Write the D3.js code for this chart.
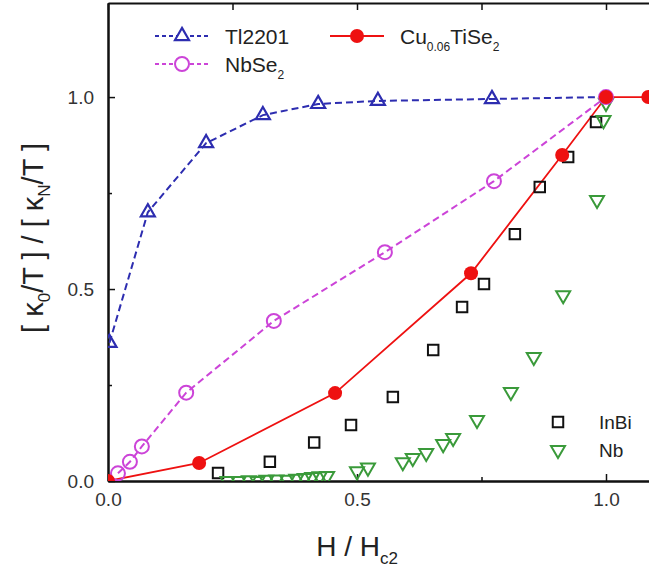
<!DOCTYPE html>
<html lang="en">
<head>
  <meta charset="UTF-8">
  <title>kappa ratio vs H/Hc2</title>
  <script src="https://cdn.jsdelivr.net/npm/d3@7/dist/d3.min.js"></script>
  <style>
    body { margin: 0; background: #fff; }
    svg { display: block; font-family: "Liberation Sans", Arial, sans-serif; }
  </style>
</head>
<body>
<svg></svg>
<script>
  // data
  const tlX = [0.003, 0.08, 0.197, 0.311, 0.422, 0.542, 0.771, 1.0]
  const tlY = [0.36, 0.70, 0.88, 0.953, 0.982, 0.99, 0.995, 1.0]

  const nbseX = [0.02, 0.044, 0.068, 0.157, 0.333, 0.556, 0.775, 1.0]
  const nbseY = [0.02, 0.05, 0.09, 0.23, 0.417, 0.596, 0.781, 1.0]

  const cuX = [0, 0.183, 0.456, 0.729, 0.912, 1.0, 1.085]
  const cuY = [0, 0.047, 0.229, 0.541, 0.849, 1.0, 1.0]

  const inbiX = [0.221, 0.325, 0.414, 0.488, 0.572, 0.653, 0.711, 0.755, 0.817, 0.867, 0.924, 0.98]
  const inbiY = [0.021, 0.05, 0.10, 0.146, 0.219, 0.341, 0.453, 0.513, 0.643, 0.766, 0.844, 0.935]

  const nbX = [0.24, 0.262, 0.283, 0.3, 0.318, 0.338, 0.36, 0.378, 0.395, 0.41, 0.425, 0.44,
    0.5, 0.522, 0.592, 0.612, 0.639, 0.673, 0.693, 0.741, 0.809, 0.855, 0.914, 0.982, 0.995, 1.0]
  const nbY = [0.0, 0.0, 0.002, 0.0, 0.003, 0.004, 0.003, 0.006, 0.008, 0.01, 0.012, 0.013,
    0.025, 0.035, 0.049, 0.06, 0.073, 0.096, 0.112, 0.159, 0.232, 0.323, 0.484, 0.732, 0.94, 0.985]

  const xTicks = [0, 0.5, 1.0]
  const xMinor = [0.25, 0.75]
  const yTicks = [0, 0.5, 1.0]
  const yMinor = [0.25, 0.75]

  const width = 649, height = 569
  const margin = {top: 3, left: 108, bottom: 88}
  const zip = (xs, ys) => xs.map((x, i) => ({x, y: ys[i]}))

  const blue = "#2d2db0", magenta = "#cc44d8", red = "#ee1111", green = "#3a9a3a"

  const svg = d3.select("svg")
      .attr("width", width)
      .attr("height", height)

  const x = d3.scaleLinear()
      .domain([0, 1.1])
      .range([margin.left, margin.left + 1.1 * 498])

  const y = d3.scaleLinear()
      .domain([0, 1.245])
      .range([height - margin.bottom, margin.top])

  svg.append("clipPath").attr("id", "clip")
      .append("rect")
      .attr("x", x(0)).attr("y", y(1.245))
      .attr("width", x(1.1) - x(0)).attr("height", y(0) - y(1.245))

  // axes, ticks pointing inward
  const axisStyle = g => g.call(g => g.selectAll(".domain").attr("stroke", "#111").attr("stroke-width", 2))
      .call(g => g.selectAll(".tick line").attr("stroke", "#111").attr("stroke-width", 1.5))
      .call(g => g.selectAll(".tick text").attr("fill", "#333").style("font-size", "19px"))

  svg.append("g")
      .attr("transform", `translate(0,${y(0)})`)
      .call(d3.axisBottom(x).tickValues(xTicks).tickSize(-7).tickPadding(12).tickSizeOuter(0)
          .tickFormat(d3.format(".1f")))
      .call(axisStyle)
  svg.append("g")
      .attr("transform", `translate(0,${y(0)})`)
      .call(d3.axisBottom(x).tickValues(xMinor).tickSize(-4).tickFormat("").tickSizeOuter(0))
      .call(axisStyle)

  svg.append("g")
      .attr("transform", `translate(0,${y(1.245)})`)
      .call(d3.axisTop(x).tickValues(xTicks.concat(xMinor)).tickSize(-7).tickFormat("").tickSizeOuter(0))
      .call(axisStyle)

  svg.append("g")
      .attr("transform", `translate(${x(0)},0)`)
      .call(d3.axisLeft(y).tickValues(yTicks).tickSize(-7).tickPadding(14).tickSizeOuter(0)
          .tickFormat(d3.format(".1f")))
      .call(axisStyle)
  svg.append("g")
      .attr("transform", `translate(${x(0)},0)`)
      .call(d3.axisLeft(y).tickValues(yMinor).tickSize(-4).tickFormat("").tickSizeOuter(0))
      .call(axisStyle)

  // axis titles
  svg.append("text")
      .attr("x", 357).attr("y", 556)
      .attr("text-anchor", "middle")
      .attr("fill", "#222")
      .style("font-size", "28px")
      .call(t => {
        t.append("tspan").text("H / H")
        t.append("tspan").text("c2").attr("dy", 8).style("font-size", "17px")
      })

  svg.append("text")
      .attr("transform", "translate(43,238) rotate(-90)")
      .attr("text-anchor", "middle")
      .attr("fill", "#222")
      .style("font-size", "29px")
      .call(t => {
        t.append("tspan").text("[ κ")
        t.append("tspan").text("0").attr("dy", 7).style("font-size", "17px")
        t.append("tspan").text("/T ] / [ κ").attr("dy", -7)
        t.append("tspan").text("N").attr("dy", 7).style("font-size", "17px")
        t.append("tspan").text("/T ]").attr("dy", -7)
      })

  const plot = svg.append("g").attr("clip-path", "url(#clip)")

  const line = d3.line().x(d => x(d.x)).y(d => y(d.y))
  const tri = d3.symbol().type(d3.symbolTriangle).size(85)
  const sq = d3.symbol().type(d3.symbolSquare).size(110)

  // lines
  plot.append("path").datum(zip(cuX, cuY))
      .attr("d", line).attr("fill", "none").attr("stroke", red).attr("stroke-width", 1.8)
  plot.append("path").datum(zip(nbseX, nbseY))
      .attr("d", line).attr("fill", "none").attr("stroke", magenta).attr("stroke-width", 2)
      .attr("stroke-dasharray", "7,4")
  plot.append("path").datum(zip(tlX, tlY))
      .attr("d", line).attr("fill", "none").attr("stroke", blue).attr("stroke-width", 2)
      .attr("stroke-dasharray", "7,4")

  // markers
  plot.selectAll(".inbi").data(zip(inbiX, inbiY)).join("path")
      .attr("transform", d => `translate(${x(d.x)},${y(d.y)})`)
      .attr("d", sq).attr("fill", "none").attr("stroke", "#111").attr("stroke-width", 2)

  plot.selectAll(".nb").data(zip(nbX, nbY)).join("path")
      .attr("transform", d => `translate(${x(d.x)},${y(d.y)}) rotate(180)`)
      .attr("d", tri).attr("fill", "none").attr("stroke", green).attr("stroke-width", 2)

  plot.selectAll(".nbse").data(zip(nbseX, nbseY)).join("circle")
      .attr("cx", d => x(d.x)).attr("cy", d => y(d.y)).attr("r", 7)
      .attr("fill", "none").attr("stroke", magenta).attr("stroke-width", 2)

  plot.selectAll(".tl").data(zip(tlX, tlY).slice(0, -1)).join("path")
      .attr("transform", d => `translate(${x(d.x)},${y(d.y)})`)
      .attr("d", tri).attr("fill", "none").attr("stroke", blue).attr("stroke-width", 2.2)

  plot.selectAll(".cu").data(zip(cuX, cuY)).join("circle")
      .attr("cx", d => x(d.x)).attr("cy", d => y(d.y)).attr("r", 7)
      .attr("fill", red)

  // legend top
  const leg = svg.append("g").style("font-size", "21px").attr("fill", "#222")
  const legRow = (lx, ly, color, dash, marker, label, sub, tail) => {
    leg.append("line").attr("x1", lx).attr("x2", lx + 54).attr("y1", ly).attr("y2", ly)
        .attr("stroke", color).attr("stroke-width", 2).attr("stroke-dasharray", dash)
    marker(lx + 27, ly)
    const t = leg.append("text").attr("x", lx + 70).attr("y", ly + 8)
    t.append("tspan").text(label)
    if (sub) {
      t.append("tspan").text(sub).attr("dy", 7).style("font-size", "12px")
      if (tail) t.append("tspan").text(tail).attr("dy", -7)
    }
  }
  legRow(155, 36, blue, "4,3", (cx, cy) => leg.append("path")
      .attr("transform", `translate(${cx},${cy})`).attr("d", tri)
      .attr("fill", "#fff").attr("stroke", blue).attr("stroke-width", 2.2), "Tl2201")
  legRow(155, 64, magenta, "4,3", (cx, cy) => leg.append("circle")
      .attr("cx", cx).attr("cy", cy).attr("r", 7)
      .attr("fill", "#fff").attr("stroke", magenta).attr("stroke-width", 2), "NbSe", "2")
  legRow(330, 36, red, null, (cx, cy) => leg.append("circle")
      .attr("cx", cx).attr("cy", cy).attr("r", 7).attr("fill", red), "Cu", "0.06", "TiSe")
  leg.select("text:last-of-type").append("tspan").text("2").attr("dy", 7).style("font-size", "12px")

  // legend bottom right
  const leg2 = svg.append("g").style("font-size", "19px").attr("fill", "#222")
  leg2.append("path").attr("transform", "translate(558,422)").attr("d", sq)
      .attr("fill", "none").attr("stroke", "#111").attr("stroke-width", 2)
  leg2.append("text").attr("x", 599).attr("y", 429).text("InBi")
  leg2.append("path").attr("transform", "translate(558,450) rotate(180)").attr("d", tri)
      .attr("fill", "none").attr("stroke", green).attr("stroke-width", 2)
  leg2.append("text").attr("x", 599).attr("y", 457).text("Nb")
</script>
</body>
</html>
